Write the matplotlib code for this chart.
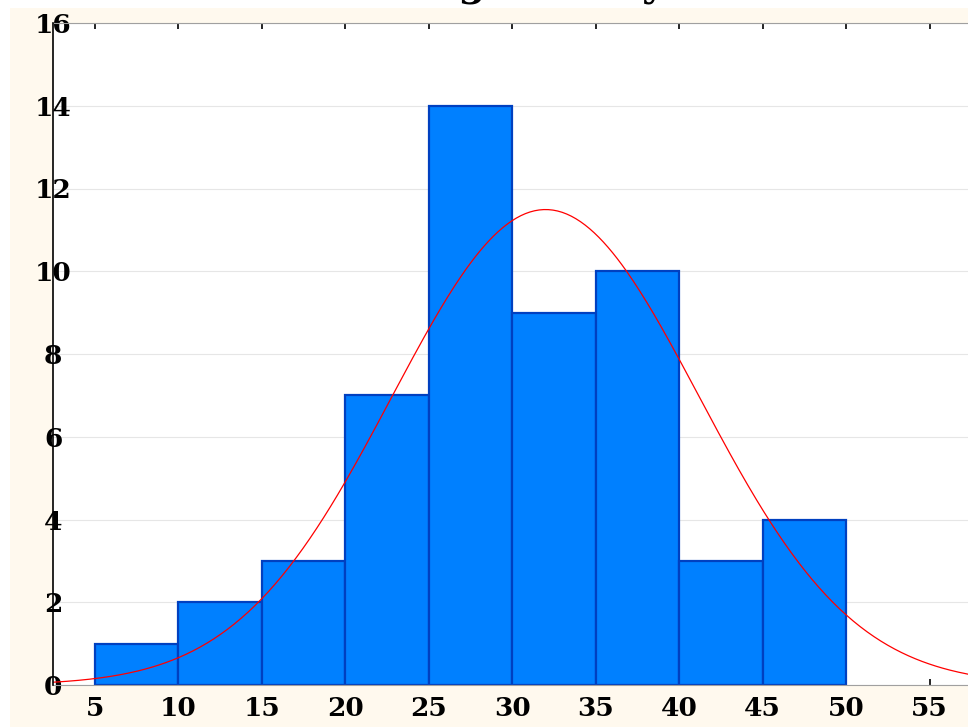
import numpy as np
import matplotlib
matplotlib.use("Agg")
import matplotlib.pyplot as plt
from matplotlib.patches import Rectangle

# Data
bin_edges = [5, 10, 15, 20, 25, 30, 35, 40, 45, 50]
counts = [1, 2, 3, 7, 14, 9, 10, 3, 4]
x_ticks = [5, 10, 15, 20, 25, 30, 35, 40, 45, 50, 55]
x_tick_labels = ["5", "10", "15", "20", "25", "30", "35", "40", "45", "50", "55"]
y_ticks = [0, 2, 4, 6, 8, 10, 12, 14, 16]
y_tick_labels = ["0", "2", "4", "6", "8", "10", "12", "14", "16"]
fit_mean = 32.0
fit_sd = 9.2
title_text = "Histogram of y"

bg = "#FFF9EE"
fig = plt.figure(figsize=(9.68, 7.27), dpi=100, facecolor="white")
fig.patches.append(Rectangle((10/968, 0), 1 - 10/968, (727 - 8)/727,
                             transform=fig.transFigure, facecolor=bg,
                             edgecolor="none", zorder=-10))
ax = fig.add_axes([53/968, 42/727, 1 - 53/968, 662/727])
ax.set_facecolor("white")

width = bin_edges[1] - bin_edges[0]
ax.bar(bin_edges[:-1], counts, width=width, align="edge",
       color="#0080FF", edgecolor="#0040C0", linewidth=1.6, zorder=2)

xs = np.linspace(2.5, 57.3, 400)
n = sum(counts)
ys = n * width / (fit_sd * np.sqrt(2 * np.pi)) * np.exp(-(xs - fit_mean) ** 2 / (2 * fit_sd ** 2))
ax.plot(xs, ys, color="red", linewidth=0.9, zorder=3)

ax.set_xlim(2.5, 57.3)
ax.set_ylim(0, 16)
ax.set_xticks(x_ticks)
ax.set_xticklabels(x_tick_labels)
ax.set_yticks(y_ticks)
ax.set_yticklabels(y_tick_labels)

ax.grid(axis="y", color="#E6E6E6", linewidth=0.8, zorder=0)
ax.set_axisbelow(True)

for s in ["top", "bottom", "right"]:
    ax.spines[s].set_color("#A0A0A0")
ax.spines["right"].set_visible(False)
ax.spines["left"].set_color("black")
ax.spines["left"].set_linewidth(1.2)
ax.spines["left"].set_zorder(4)

ax.tick_params(axis="x", direction="in", top=True, bottom=True, length=4,
               width=1.2, color="black", pad=8)
ax.tick_params(axis="y", length=0, pad=0)
for lab in ax.get_yticklabels():
    lab.set_horizontalalignment("center")
for lab in ax.get_xticklabels() + ax.get_yticklabels():
    lab.set_fontfamily("DejaVu Serif")
    lab.set_fontweight("bold")
    lab.set_fontsize(19)

fig.text(0.52, 1.0 + 4/727, title_text, ha="center", va="baseline",
         fontsize=28, family="DejaVu Serif", fontweight="bold")

fig.savefig("out.png", dpi=100, facecolor="white")
